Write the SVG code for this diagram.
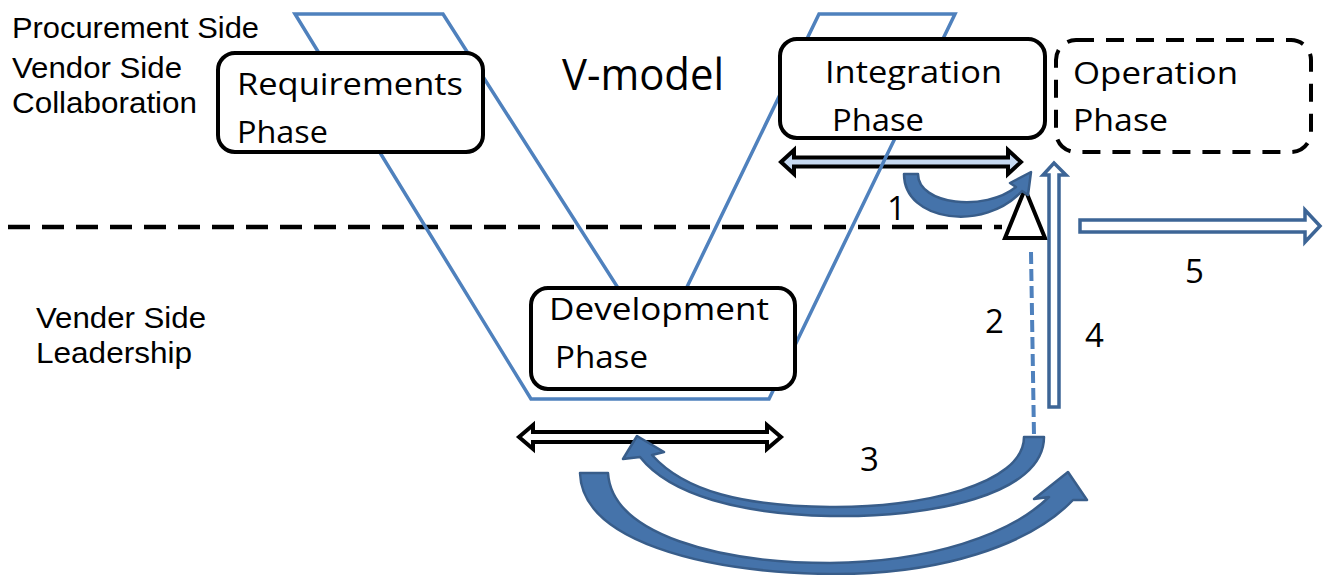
<svg xmlns="http://www.w3.org/2000/svg" width="1326" height="575" viewBox="0 0 1326 575">
<style>
.side{font-family:"Liberation Sans",Arial,sans-serif;font-size:30px;fill:#000}
.box{fill:#fff;stroke:#000;stroke-width:4}
.lbl{font-family:"Open Sans","Noto Sans",sans-serif;font-size:31px;fill:#000}
.num{font-family:"Open Sans","Noto Sans",sans-serif;font-size:33px;fill:#000}
.vline{fill:none;stroke:#4f81bd;stroke-width:3.5;stroke-linejoin:miter}
.curve{fill:#4573aa;stroke:#385d8a;stroke-width:2.5;stroke-linejoin:round}
.hollow{fill:#fff;stroke:#3d6596;stroke-width:3.5;stroke-linejoin:miter}
.dbl{stroke:#000;stroke-width:4;stroke-linejoin:miter}
</style>
<rect width="1326" height="575" fill="#fff"/>
<g id="side-labels">
<text class="side" x="12" y="38" textLength="247" lengthAdjust="spacingAndGlyphs">Procurement Side</text>
<text class="side" x="12" y="78" textLength="170" lengthAdjust="spacingAndGlyphs">Vendor Side</text>
<text class="side" x="12" y="113" textLength="185" lengthAdjust="spacingAndGlyphs">Collaboration</text>
<text class="side" x="36" y="328" textLength="170" lengthAdjust="spacingAndGlyphs">Vender Side</text>
<text class="side" x="36" y="363" textLength="156" lengthAdjust="spacingAndGlyphs">Leadership</text>
</g>
<g id="divider">
<line x1="8" y1="227" x2="1002" y2="227" stroke="#000" stroke-width="4.5" stroke-dasharray="22 12"/>
</g>
<g id="connectors">
<path class="dbl" fill="#c6d9f1" d="M781,162 L794,150 L794,157.5 L1008,157.5 L1008,150 L1021,162 L1008,174 L1008,166.5 L794,166.5 L794,174 Z"/>
<path class="dbl" fill="#fff" d="M519,437 L533,425 L533,432 L767,432 L767,425 L781,437 L767,449 L767,442 L533,442 L533,449 Z"/>
</g>
<g id="vshape">
<path class="vline" d="M295,14 L443,14 L657,349 L819,14 L955,14 L769,399 L531,399 Z"/>
</g>
<g id="requirements">
<rect class="box" x="218" y="53" width="265" height="99" rx="17"/>
<text class="lbl" x="237" y="95" textLength="226" lengthAdjust="spacingAndGlyphs">Requirements</text>
<text class="lbl" x="237" y="143" textLength="91" lengthAdjust="spacingAndGlyphs">Phase</text>
</g>
<g id="vmodel-title">
<text class="lbl" x="562" y="90" font-size="44" style="font-size:44px" textLength="162" lengthAdjust="spacingAndGlyphs">V-model</text>
</g>
<g id="integration">
<rect class="box" x="780" y="39" width="265" height="99" rx="17"/>
<text class="lbl" x="825" y="83" textLength="177" lengthAdjust="spacingAndGlyphs">Integration</text>
<text class="lbl" x="832" y="131" textLength="92" lengthAdjust="spacingAndGlyphs">Phase</text>
</g>
<g id="operation">
<rect x="1056" y="40" width="255" height="112" rx="20" fill="#fff" stroke="#000" stroke-width="4" stroke-dasharray="18 12"/>
<text class="lbl" x="1073" y="84" textLength="165" lengthAdjust="spacingAndGlyphs">Operation</text>
<text class="lbl" x="1073" y="131" textLength="95" lengthAdjust="spacingAndGlyphs">Phase</text>
</g>
<g id="development">
<rect class="box" x="531" y="288" width="264" height="101" rx="17"/>
<text class="lbl" x="549" y="320" textLength="220" lengthAdjust="spacingAndGlyphs">Development</text>
<text class="lbl" x="555" y="368" textLength="93" lengthAdjust="spacingAndGlyphs">Phase</text>
</g>
<g id="gate">
<path d="M1025,189 L1005,238 L1045,238 Z" fill="#fff" stroke="#000" stroke-width="4" stroke-linejoin="miter"/>
</g>
<g id="flow-arrows">
<path class="curve" d="M904,174 L918,174 C918,205 985,212 1016,187 L1010,183 L1031,172 L1028,195 L1022,191 C985,232 904,222 904,174 Z"/>
<line x1="1031" y1="252" x2="1034" y2="436" stroke="#4f81bd" stroke-width="4" stroke-dasharray="12 5"/>
<path class="curve" d="M1044,437 C1044,495 930,518 830,516 C740,514 670,495 640,457 L623,459 L637,436 L664,452 L652,455 C685,492 745,506 830,507 C920,508 1024,485 1024,437 Z"/>
<path class="curve" d="M580,473 L608,473 C612,535 720,563 830,563 C930,562 1010,535 1049,497 L1034,499 L1068,472 L1087,500 L1073,500 C1030,545 940,575 830,574 C700,572 582,540 580,473 Z"/>
<path class="hollow" d="M1049,407 L1049,175 L1043,175 L1054,163 L1066,175 L1059,175 L1059,407 Z"/>
<path class="hollow" d="M1080,220 L1305,220 L1305,210 L1320,226 L1305,242 L1305,232 L1080,232 Z"/>
</g>
<g id="numbers">
<text class="num" x="887" y="220">1</text>
<text class="num" x="985" y="333">2</text>
<text class="num" x="860" y="471">3</text>
<text class="num" x="1085" y="347">4</text>
<text class="num" x="1185" y="283">5</text>
</g>
</svg>
